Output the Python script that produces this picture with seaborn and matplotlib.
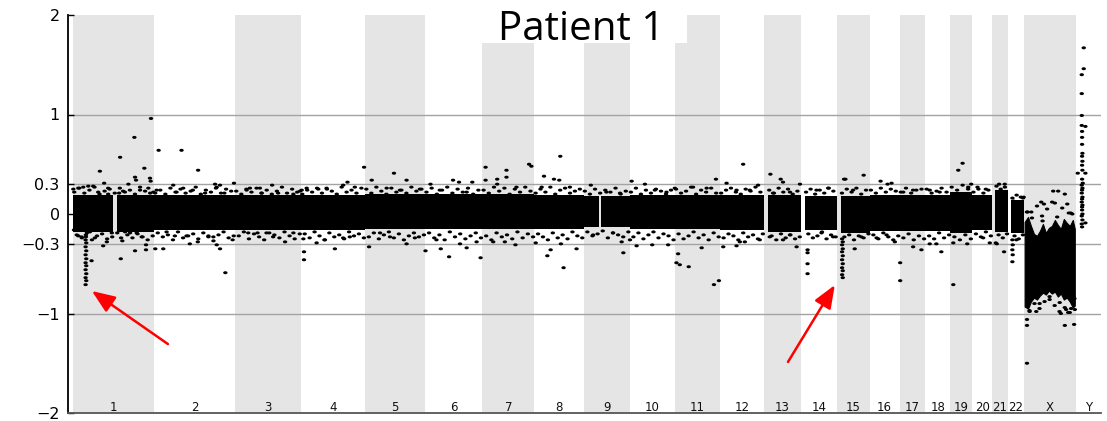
import numpy as np
import pandas as pd
import matplotlib
matplotlib.use("Agg")
import matplotlib.pyplot as plt
import seaborn as sns
from matplotlib.patches import Rectangle
from matplotlib.path import Path

# ---------------- data ----------------
chrom_names = [str(i) for i in range(1, 23)] + ["X", "Y"]
# chromosome sizes (Mb, as laid out in the genome plot)
chrom_len_mb = [244, 244, 199, 193, 181, 172, 157, 148, 139, 136, 136, 133,
                111, 108, 99, 90, 78, 75, 66, 60, 48, 48, 157, 75]
# unmapped short arm at the start of acrocentric chromosomes (Mb)
pter_gap_mb = [0, 0, 0, 0, 0, 0, 0, 0, 0, 0, 0, 0,
               12, 12, 12, 0, 0, 0, 0, 0, 10, 10, 5, 0]
# dense core of log2 ratios per autosome (upper / lower edge)
core_top = [0.19, 0.19, 0.19, 0.19, 0.20, 0.20, 0.20, 0.19, 0.18, 0.19, 0.19, 0.19,
            0.19, 0.18, 0.18, 0.19, 0.19, 0.19, 0.22, 0.19, 0.24, 0.14, np.nan, np.nan]
core_bottom = [-0.185, -0.165, -0.165, -0.165, -0.155, -0.155, -0.155, -0.155, -0.135, -0.155, -0.155, -0.165,
               -0.185, -0.165, -0.195, -0.175, -0.175, -0.175, -0.195, -0.165, -0.185, -0.195, np.nan, np.nan]
# genome-wide position of gaps (centromeres) in the core (Mb)
gap_start_mb = [120, 1585]
gap_end_mb = [133, 1590]
# chromosome X cloud (loss) envelope, genome-wide Mb
xcloud_mb = [2867, 2877, 2886, 2895, 2904, 2913, 2922, 2931, 2940,
             2949, 2958, 2967, 2976, 2985, 2994, 3003, 3012, 3018]
xcloud_top = [-.08, -.03, -.12, -.20, -.22, -.17, -.10, -.19, -.14,
              -.12, -.06, -.11, -.15, -.05, -.09, -.12, -.06, -.15]
xcloud_bottom = [-.93, -.95, -.88, -.84, -.86, -.82, -.79, -.81, -.77,
                 -.80, -.78, -.83, -.80, -.86, -.84, -.88, -.94, -.92]

# bins just outside the dense core, evenly spaced along each chromosome
upper_fringe = [
    [.22, .26, .21, .24, .27, .20, .23, .25, .21, .26, .22, .24, .20, .27, .23, .21],
    [.21, .24, .20, .26, .22, .25, .21, .23, .27, .20, .24, .22, .26, .21, .25, .23],
    [.23, .20, .25, .22, .26, .21, .24, .20, .23, .27, .21, .25, .22],
    [.20, .24, .22, .26, .21, .25, .23, .20, .27, .22, .24, .21, .26],
    [.25, .21, .27, .23, .20, .26, .22, .24, .21, .27, .23, .25],
    [.22, .26, .20, .24, .27, .21, .25, .22, .26, .20, .24],
    [.24, .21, .27, .23, .26, .20, .25, .22, .27, .23],
    [.21, .25, .22, .27, .20, .24, .26, .21, .23, .25],
    [.23, .20, .25, .21, .24, .22, .26, .20, .23],
    [.22, .26, .20, .24, .21, .25, .23, .20, .24],
    [.25, .21, .23, .27, .20, .24, .22, .26, .21],
    [.21, .24, .26, .22, .20, .25, .23, .27, .22],
    [.24, .21, .26, .22, .25, .20, .23],
    [.22, .25, .20, .24, .21, .26, .23],
    [.21, .25, .22, .26, .20, .24],
    [.24, .21, .26, .22, .25, .23],
    [.22, .26, .21, .24, .25],
    [.25, .21, .23, .26, .22],
    [.27, .24, .29, .25],
    [.22, .25, .21, .24],
    [.28, .25, .27],
    [.16, .19, .17],
    [.02, -.04, .08, -.02, .05, .12, -.03, .06, .10, .00],
    [],
]
lower_fringe = [
    [-.21, -.24, -.19, -.26, -.22, -.20, -.25, -.23, -.19, -.27, -.21, -.24, -.20, -.23, -.26, -.22],
    [-.19, -.23, -.21, -.26, -.18, -.24, -.22, -.20, -.25, -.19, -.23, -.27, -.21, -.18, -.24, -.22],
    [-.22, -.18, -.25, -.20, -.23, -.26, -.19, -.21, -.24, -.18, -.22, -.25, -.20],
    [-.20, -.24, -.18, -.22, -.26, -.19, -.23, -.21, -.25, -.18, -.22, -.20, -.24],
    [-.23, -.19, -.25, -.21, -.18, -.24, -.20, -.26, -.22, -.19, -.23, -.21],
    [-.19, -.24, -.21, -.26, -.18, -.23, -.20, -.25, -.22, -.19, -.24],
    [-.22, -.26, -.19, -.23, -.21, -.25, -.18, -.24, -.20, -.23],
    [-.20, -.23, -.26, -.19, -.24, -.21, -.25, -.18, -.22, -.24],
    [-.18, -.22, -.20, -.17, -.24, -.19, -.21, -.23, -.18],
    [-.23, -.19, -.25, -.21, -.18, -.24, -.20, -.22, -.26],
    [-.20, -.25, -.22, -.18, -.24, -.21, -.26, -.19, -.23],
    [-.24, -.20, -.22, -.26, -.19, -.23, -.21, -.25, -.20],
    [-.22, -.26, -.20, -.24, -.21, -.25, -.23],
    [-.20, -.24, -.22, -.18, -.25, -.21, -.23],
    [-.23, -.21, -.26, -.22, -.24, -.20],
    [-.21, -.25, -.19, -.23, -.26, -.22],
    [-.24, -.20, -.26, -.22, -.25],
    [-.22, -.25, -.19, -.24, -.21],
    [-.23, -.26, -.21, -.25],
    [-.20, -.23, -.18, -.22],
    [-.21, -.24, -.20],
    [-.22, -.25, -.21],
    [-.97, -.90, -.95, -.88, -.86, -.92, -.89, -.94, -.99, -.96],
    [],
]

# individual outlying bins: genome-wide position (Mb) and log2 ratio
dot_mb = [
    # chr1
    1, 16, 31, 46, 61, 76, 81, 94, 106, 106, 139, 142, 151, 167, 185, 187, 190, 202, 215, 227, 232, 234, 235, 242,
    3, 16, 26, 51, 56, 66, 91, 102, 117, 144, 145, 157, 172, 187, 192, 207, 220, 220,
    39, 38, 40, 38, 40, 38, 40, 38, 40, 38, 40, 38, 40, 38, 39,
    # chr2
    252, 258, 302, 312, 327, 332, 361, 377, 398, 428, 433, 443, 456, 485,
    248, 272, 282, 307, 342, 352, 376, 408, 423, 433, 443, 459, 481,
    # chr3
    523, 533, 563, 568, 600, 618, 664, 684,
    528, 556, 603, 639, 583, 664,
    # chr4
    689, 704, 739, 764, 814, 827, 849, 877,
    694, 696, 696, 734, 759, 789, 814, 834,
    # chr5
    900, 967, 1005, 945, 985, 1045,
    892, 1005, 955, 925, 1030,
    # chr6
    1077, 1145, 1163, 1203, 1105, 1186,
    1062, 1108, 1133, 1166, 1186, 1095, 1216, 1228,
    # chr7
    1243, 1243, 1278, 1278, 1306, 1306, 1374, 1381, 1336,
    1301, 1333, 1266,
    # chr8
    1419, 1449, 1465, 1468, 1497, 1412,
    1394, 1429, 1439, 1470, 1478, 1517,
    # chr9
    1560, 1607, 1648,
    1567, 1627, 1658, 1653,
    # chr10
    1683, 1723, 1753, 1788,
    1698, 1745, 1793, 1678,
    # chr11
    1813, 1868, 1937, 1909,
    1823, 1818, 1828, 1855, 1894, 1931, 1946,
    # chr12
    1969, 2019, 1999, 2039, 2064,
    1959, 1999, 2009, 2024, 2069,
    # chr13
    2101, 2132, 2139, 2190, 2109, 2160,
    2180, 2099, 2139, 2160,
    # chr14
    2213, 2213, 2213, 2213, 2240, 2275, 2255, 2290,
    # chr15
    2317, 2319, 2317, 2319, 2317, 2319, 2317, 2319, 2317, 2319, 2317, 2319,
    2323, 2327, 2382, 2350, 2355, 2375,
    # chr16
    2433, 2454, 2466, 2421, 2476, 2451,
    # chr17
    2492, 2492, 2501, 2531, 2531, 2556,
    # chr18
    2581, 2611, 2581, 2601, 2616,
    # chr19
    2667, 2680, 2697, 2706, 2652, 2652, 2694,
    # chr20
    2725, 2750, 2742, 2762,
    # chr21
    2790, 2807, 2783, 2805, 2780,
    # chr22
    2830, 2831, 2830, 2831, 2830, 2834, 2864, 2840, 2862, 2842,
    # chrX
    2887, 2917, 2925, 2953, 2968, 2958, 2988, 3006, 2876, 2921, 3000,
    2874, 2874, 2874, 2988, 3016, 2976, 2998, 2877, 2882, 2902, 2912, 2942, 2972, 2992, 3007, 3017,
    # chrY
    3045, 3045, 3039, 3039, 3039, 3039, 3050, 3040, 3040, 3040, 3041, 3040, 3041, 3040, 3041, 3027, 3050,
    3040, 3042, 3039, 3041, 3040, 3039, 3041, 3040, 3039, 3041, 3040, 3040, 3041, 3039, 3041, 3050, 3039, 3040,
]
dot_lr2 = [
    # chr1
    .25, .26, .27, .28, .28, .22, .43, .31, .26, .20, .21, .57, .23, .30, .77, .37, .34, .24, .46, .26, .36, .33, .96, .22,
    -.16, -.22, -.23, -.18, -.47, -.24, -.32, -.28, -.19, -.45, -.24, -.18, -.19, -.37, -.19, -.23, -.31, -.36,
    -.21, -.26, -.29, -.33, -.37, -.41, -.45, -.49, -.52, -.56, -.60, -.64, -.67, -.71, -.23,
    # chr2
    .24, .64, .29, .22, .64, .26, .24, .44, .21, .30, .27, .29, .21, .31,
    -.35, -.35, -.18, -.22, -.22, -.30, -.28, -.22, -.23, -.31, -.35, -.59, -.26,
    # chr3
    .24, .26, .26, .21, .29, .21, .20, .23,
    -.19, -.19, -.23, -.28, -.19, -.19,
    # chr4
    .24, .26, .25, .26, .29, .32, .27, .47,
    -.25, -.38, -.46, -.29, -.26, -.35, -.24, -.23,
    # chr5
    .34, .41, .34, .26, .24, .25,
    -.33, -.30, -.23, -.19, -.24,
    # chr6
    .30, .34, .32, .32, .24, .22,
    -.37, -.35, -.43, -.30, -.34, -.26, -.28, -.44,
    # chr7
    .47, .34, .35, .30, .44, .37, .50, .48, .27,
    -.28, -.31, -.28,
    # chr8
    .38, .35, .34, .58, .27, .27,
    -.29, -.42, -.36, -.30, -.54, -.35,
    # chr9
    .29, .22, .21,
    -.21, -.19, -.39, -.28,
    # chr10
    .33, .30, .24, .22,
    -.32, -.31, -.31, -.26,
    # chr11
    .26, .27, .35, .26,
    -.40, -.49, -.51, -.53, -.34, -.71, -.67,
    # chr12
    .31, .50, .24, .24, .29,
    -.33, -.32, -.28, -.28, -.26,
    # chr13
    .40, .35, .32, .30, .21, .22,
    -.33, -.23, -.26, -.21,
    # chr14
    -.36, -.39, -.50, -.60, .24, .26, -.19, -.23,
    # chr15
    -.25, -.28, -.31, -.35, -.38, -.42, -.46, -.50, -.54, -.57, -.61, -.64,
    .35, .35, .39, .24, -.35, -.23,
    # chr16
    .33, .30, .31, -.24, -.28, -.21,
    # chr17
    -.49, -.67, .22, .24, -.33, -.36,
    # chr18
    .24, .22, -.30, -.30, -.38,
    # chr19
    .44, .51, .27, .30, -.71, -.29, -.30,
    # chr20
    .27, .25, -.24, -.29,
    # chr21
    .30, .30, -.30, -.38, -.29,
    # chr22
    -.26, -.31, -.36, -.41, -.48, .13, .17, .12, .16, -.26,
    # chrX
    .02, .12, .10, .23, .23, .11, .20, .01, .02, -.07, .01,
    -1.06, -1.12, -1.50, -1.12, -1.11, -1.00, -.99, -.93, -.98, -.98, -.90, -.83, -.98, -.96, -.95, -.85,
    # chrY
    1.67, 1.46, 1.40, 1.21, .99, .89, .88, .83, .77, .70, .61, .58, .53, .49, .44, .41, .41,
    .35, .31, .29, .26, .24, .21, .17, .15, .12, .09, .07, .04, .00, -.02, -.06, -.09, -.10, -.13,
]

y_ticks = [-2, -1, -0.3, 0, 0.3, 1, 2]
y_tick_labels = ["\u22122", "\u22121", "\u22120.3", "0", "0.3", "1", "2"]
grid_levels = [1, 0.3, -0.3, -1]
title_text = "Patient 1"
# arrows pointing at the focal deletions (head, tail) in genome Mb / log2 ratio
arrow_heads = [(57, -0.774), (2295, -0.714)]
arrow_tails = [(286, -1.307), (2154, -1.487)]

# ---------------- figure ----------------
W, H = 1107, 421
fig = plt.figure(figsize=(W / 100, H / 100), dpi=100)
ax = fig.add_axes([68 / W, 8 / H, 1033 / W, 398 / H])

starts = np.concatenate([[0], np.cumsum(chrom_len_mb)[:-1]])
ends = starts + np.array(chrom_len_mb)

for i, (s, e) in enumerate(zip(starts, ends)):
    if i % 2 == 0:
        ax.axvspan(s, e, color="#e5e5e5", lw=0, zorder=0)

for v in grid_levels:
    ax.axhline(v, color="#a3a3a3", lw=1.0, zorder=1)

# dense cores
for i, (s, e) in enumerate(zip(starts, ends)):
    if np.isnan(core_top[i]):
        continue
    s0 = s + pter_gap_mb[i]
    segs = [[s0, e]]
    for gs, ge in zip(gap_start_mb, gap_end_mb):
        new = []
        for a, b in segs:
            if gs > a and ge < b:
                new += [[a, gs], [ge, b]]
            else:
                new.append([a, b])
        segs = new
    for a, b in segs:
        ax.fill_between([a, b], [core_bottom[i]] * 2, [core_top[i]] * 2,
                        color="black", lw=0, zorder=3)

ax.fill_between(xcloud_mb, xcloud_bottom, xcloud_top, color="black", lw=0.8,
                edgecolor="black", zorder=3)

# fringe bins: evenly spaced along their chromosome
fr_pos, fr_val = [], []
for i, (s, e) in enumerate(zip(starts, ends)):
    s0 = s + pter_gap_mb[i]
    for vals, shift in ((upper_fringe[i], 0.25), (lower_fringe[i], 0.75)):
        n = len(vals)
        for k, v in enumerate(vals):
            fr_pos.append(s0 + (e - s0) * (k + shift) / n)
            fr_val.append(v)

# bins as dots
th = np.linspace(0, 2 * np.pi, 25)
ell = Path(np.c_[1.45 * np.cos(th), np.sin(th)], closed=True)
dots = pd.DataFrame({"pos": list(dot_mb) + fr_pos, "lr2": list(dot_lr2) + fr_val})
sns.scatterplot(data=dots, x="pos", y="lr2", ax=ax, color="black", marker=ell,
                s=10, edgecolor="none", linewidth=0, legend=False, zorder=4)

# chromosome labels
for name, s, e in zip(chrom_names, starts, ends):
    ax.text((s + e) / 2, -1.945, name, ha="center", va="center",
            fontsize=8.5, color="#111111", zorder=5)

# arrows
for hd, tl in zip(arrow_heads, arrow_tails):
    ax.annotate("", xy=hd, xytext=tl,
                arrowprops=dict(arrowstyle="-|>,head_length=0.5,head_width=0.2",
                                color="#ff0000", lw=1.8, mutation_scale=28,
                                shrinkA=0, shrinkB=0), zorder=6)

ax.set_xlim(-15, 3097)
ax.set_ylim(-2, 2)
ax.set_xticks([])
ax.set_yticks(y_ticks)
ax.set_yticklabels(y_tick_labels)
ax.tick_params(axis="y", direction="in", length=4, width=1, pad=6,
               labelsize=11.5, colors="black")
ax.set_xlabel("")
ax.set_ylabel("")
for side in ["top", "right"]:
    ax.spines[side].set_visible(False)
ax.spines["left"].set_color("black")
ax.spines["left"].set_linewidth(1.3)
ax.spines["bottom"].set_color("#555555")
ax.spines["bottom"].set_linewidth(1.3)

# title box
ax.add_patch(Rectangle(((470 - 68) / 1033, (413 - 43) / 398), (687 - 470) / 1033, 0.12,
                       transform=ax.transAxes, facecolor="white", edgecolor="none",
                       zorder=7, clip_on=False))
fig.text(581 / W, (H - 40) / H, title_text, ha="center", va="baseline",
         fontsize=29, family="Open Sans", color="black", zorder=8)

fig.savefig("out.png", dpi=100)
